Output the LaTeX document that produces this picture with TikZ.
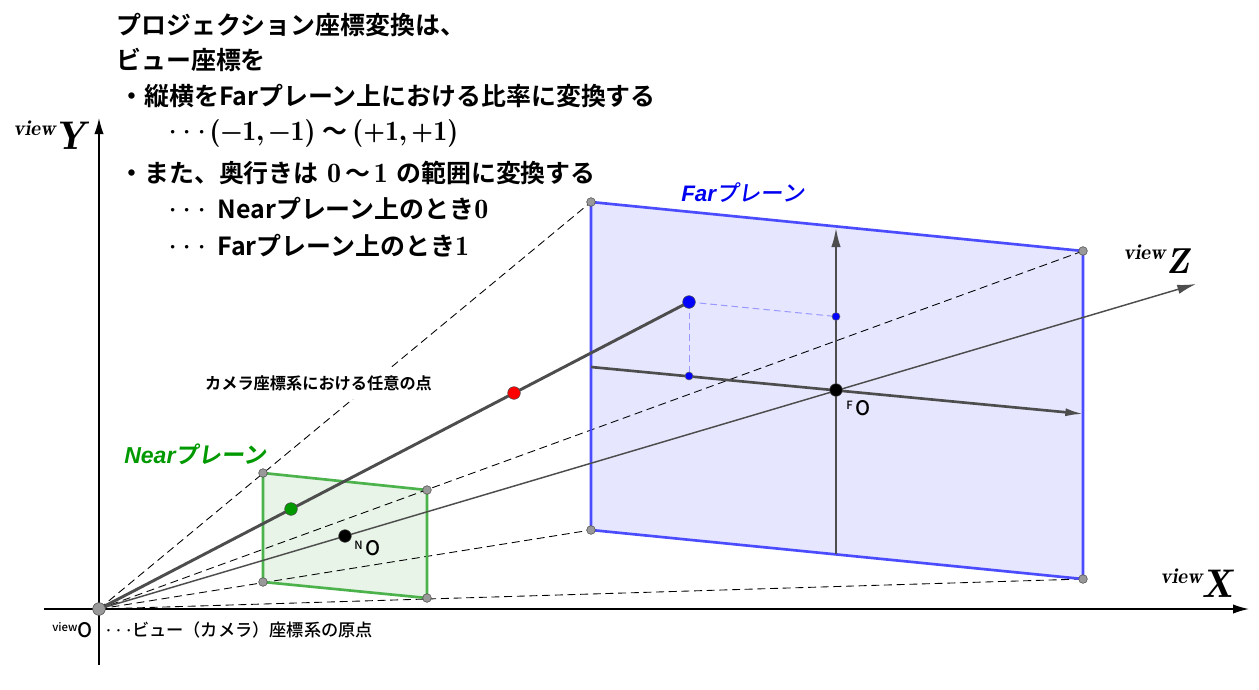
\documentclass[tikz,border=0pt]{standalone}
\usepackage{fontspec}
\usetikzlibrary{arrows.meta}
\setmainfont{Noto Sans CJK JP}[BoldFont={Noto Sans CJK JP Bold}]
\newfontfamily\medcjk{Noto Sans CJK JP Medium}
\newfontfamily\slcjk{Noto Sans CJK JP Medium}[FakeSlant=0.15]
\newfontfamily\slcjkb{Noto Sans CJK JP Bold}[FakeSlant=0.15]
\newfontfamily\latbi{Liberation Sans}
\newcommand\lmbold{\fontfamily{lmr}\bfseries\upshape\fontsize{21}{21}\selectfont}
\newcommand\lmbi{\fontfamily{lmr}\bfseries\itshape\selectfont}
\newcommand\bigdots{{\fontsize{24}{24}\selectfont$\cdots$}}
\newcommand\viewword[1]{\raisebox{#1}{\lmbi\fontsize{16}{16}\selectfont view}}
\definecolor{nearfill}{HTML}{E7F4E7}
\definecolor{nearline}{HTML}{4CB24C}
\definecolor{farfill}{HTML}{E6E6FF}
\definecolor{farline}{HTML}{4C4CFF}
\definecolor{raygray}{HTML}{4D4D4D}
\definecolor{ptgray}{HTML}{999999}
\definecolor{nearlab}{HTML}{009900}
\definecolor{farlab}{HTML}{0000F0}
\definecolor{guide}{HTML}{9999FF}
\tikzset{
  x=0.75pt,y=-0.75pt,
  axisline/.style={black,line width=1.1pt,-{Latex[length=12pt,width=7pt]}},
  raythin/.style={raygray,line width=1.1pt},
  raythick/.style={raygray,line width=2.2pt},
  inplane/.style={raygray,line width=2pt},
  dashray/.style={black,line width=0.65pt,dash pattern=on 6pt off 3.5pt},
  guideline/.style={guide,line width=0.75pt,dash pattern=on 5pt off 3pt},
  corner/.style={circle,inner sep=0pt,minimum size=6.5pt,fill=ptgray,draw=raygray,line width=0.4pt},
  ptbig/.style={circle,inner sep=0pt,minimum size=9.5pt,draw=black!70,line width=0.4pt},
  ptsmall/.style={circle,inner sep=0pt,minimum size=6pt,fill=blue,draw=black!60,line width=0.4pt},
  txt/.style={anchor=west,inner sep=0pt,font=\bfseries\fontsize{18.7}{18.7}\selectfont},
  smalllab/.style={inner sep=0pt,font=\medcjk\fontsize{12.9}{12.9}\selectfont},
  axlab/.style={inner sep=0pt,anchor=base west},
  olab/.style={inner sep=0pt,anchor=base west,font=\medcjk},
}
\begin{document}
\begin{tikzpicture}
\useasboundingbox (0,0) rectangle (1259,689);
\coordinate (O) at (99,609);
\coordinate (Ybot) at (99,665);
\coordinate (Ytop) at (99,118);
\coordinate (Xl) at (44,609);
\coordinate (Xr) at (1249,609);
\coordinate (Zt) at (1196,284);
\coordinate (FA) at (591,202);
\coordinate (FB) at (1083,251);
\coordinate (FC) at (1083,579);
\coordinate (FD) at (591,530);
\coordinate (NA) at (263,473);
\coordinate (NB) at (427,490);
\coordinate (NC) at (427,598);
\coordinate (ND) at (263,582);
\coordinate (FO) at (836,390);
\coordinate (NO) at (345,536);
\coordinate (Fvb) at (836,554);
\coordinate (Fvt) at (836,227);
\coordinate (Fhl) at (591,367);
\coordinate (Fhr) at (1084,414);
\coordinate (Pb) at (689,302);
\coordinate (Pbx) at (689,376);
\coordinate (Pby) at (836,316.5);

% planes
\fill[farfill] (FA)--(FB)--(FC)--(FD)--cycle;
\fill[nearfill] (NA)--(NB)--(NC)--(ND)--cycle;

% dashed rays
\draw[dashray] (O)--(FA);
\draw[dashray] (O)--(FB);
\draw[dashray] (O)--(FC);
\draw[dashray] (O)--(FD);

% plane outlines
\draw[farline,line width=2pt,line join=round] (FA)--(FB)--(FC)--(FD)--cycle;
\draw[nearline,line width=2pt,line join=round] (NA)--(NB)--(NC)--(ND)--cycle;

% axes
\draw[axisline] (Ybot)--(Ytop);
\draw[axisline] (Xl)--(Xr);
\draw[raythin,-{Latex[length=14pt,width=7pt]}] (O)--(Zt);
\draw[raythick] (O)--(Pb);
\draw[inplane,-{Latex[length=15pt,width=7pt]}] (Fvb)--(Fvt);
\draw[inplane,-{Latex[length=14pt,width=6pt]}] (Fhl)--(Fhr);
\draw[guideline] (Pb)--(Pbx);
\draw[guideline] (Pb)--(Pby);

% points
\node[corner] (cFA) at (FA) {};
\node[corner] (cFB) at (FB) {};
\node[corner] (cFC) at (FC) {};
\node[corner] (cFD) at (FD) {};
\node[corner] (cNA) at (NA) {};
\node[corner] (cNB) at (NB) {};
\node[corner] (cNC) at (NC) {};
\node[corner] (cND) at (ND) {};
\node[ptbig,fill=ptgray,minimum size=9.5pt] (pO) at (O) {};
\node[ptbig,fill=blue] (pBlue) at (Pb) {};
\node[ptbig,fill=red] (pRed) at (514,393) {};
\node[ptbig,fill=nearlab] (pGreen) at (291,509) {};
\node[ptbig,fill=black] (pF) at (FO) {};
\node[ptbig,fill=black] (pN) at (NO) {};
\node[ptsmall] (pBx) at (Pbx) {};
\node[ptsmall] (pBy) at (Pby) {};

% heading
\node[txt] (t1) at (116,25) {プロジェクション座標変換は、};
\node[txt] (t2) at (116,60) {ビュー座標を};
\node[txt] (t3) at (119,96) {・縦横をFarプレーン上における比率に変換する};
\node[txt] (t4) at (168,133) {\bigdots\hspace{2pt}{\lmbold (−1,\,−1)}\hspace{5pt}〜\hspace{4pt}{\lmbold (+1,\,+1)}};
\node[txt] (t5) at (119,173) {・また、奥行きは\,\,{\lmbold 0}\hspace{3pt}〜\hspace{3pt}{\lmbold 1}\,\,の範囲に変換する};
\node[txt] (t6) at (168,209) {\bigdots\hspace{8pt}Nearプレーン上のとき{\lmbold 0}};
\node[txt] (t7) at (168,246) {\bigdots\hspace{8pt}Farプレーン上のとき{\lmbold 1}};

% labels
\node[smalllab,fill=white,inner xsep=1pt,inner ysep=6pt,font=\bfseries\fontsize{12.15}{12.15}\selectfont] (lCam) at (318.5,383) {カメラ座標系における任意の点};
\node[inner sep=0pt,anchor=west,text=farlab] (lFar) at (681,193) {\fontsize{16.8}{16.8}\selectfont{\latbi\bfseries\itshape Far}{\slcjk プレーン}};
\node[inner sep=0pt,anchor=west,text=nearlab] (lNear) at (124,454) {\fontsize{17.3}{17.3}\selectfont{\latbi\bfseries\itshape Near}{\slcjkb プレーン}};
\node[smalllab,anchor=west] (lOrig) at (105,630) {{\fontsize{16}{16}\selectfont$\cdots$}ビュー（カメラ）座標系の原点};
\node[olab] (lvO) at (52,637) {\raisebox{4.5pt}{\fontsize{8.5}{8.5}\selectfont view}\fontsize{15}{15}\selectfont O};
\node[olab] (lNO) at (354,555) {\raisebox{4.5pt}{\fontsize{8.5}{8.5}\selectfont N}\hspace{2pt}\fontsize{15}{15}\selectfont O};
\node[olab] (lFO) at (846,415) {\raisebox{4.5pt}{\fontsize{8.5}{8.5}\selectfont F}\hspace{2pt}\fontsize{15}{15}\selectfont O};
\node[axlab] (lY) at (13,149) {\viewword{10pt}\lmbi\fontsize{30}{30}\selectfont Y};
\node[axlab] (lZ) at (1123,273) {\viewword{10pt}\hspace{1pt}\lmbi\fontsize{27}{27}\selectfont Z};
\node[axlab] (lX) at (1160,597) {\viewword{10.5pt}\lmbi\fontsize{30}{30}\selectfont X};
\end{tikzpicture}
\end{document}
